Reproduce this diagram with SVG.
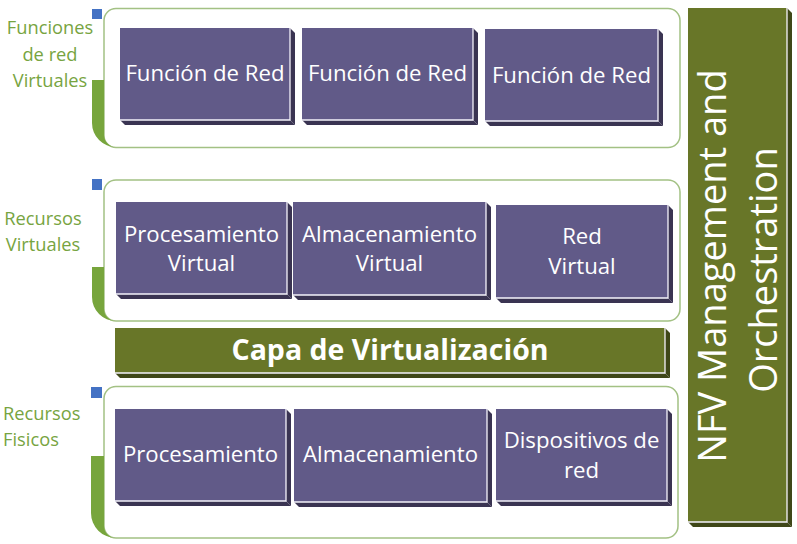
<svg xmlns="http://www.w3.org/2000/svg" width="797" height="544" viewBox="0 0 797 544">
<defs>
<style>
.panel{fill:#ffffff;stroke:#a3c184;stroke-width:1.5}
.brk{fill:#77a53c}
.sq{fill:#4472c4}
.lbl{font-family:"Open Sans","Noto Sans",sans-serif;font-size:18.3px;fill:#77a441}
.front{fill:#615a88}
.side{fill:#3a3452}
.hl{fill:none;stroke:#f4f2fa;stroke-width:1.3}
.btxt{font-family:"Open Sans","Noto Sans",sans-serif;font-size:22.2px;fill:#ffffff;text-anchor:middle}
.ofront{fill:#687628}
.oside{fill:#3f4718}
.ctxt{font-family:"Open Sans","Noto Sans",sans-serif;font-size:28.5px;font-weight:bold;fill:#ffffff;text-anchor:middle}
.ntxt{font-family:"Open Sans","Noto Sans",sans-serif;font-size:38px;fill:#ffffff;text-anchor:middle}
</style>
</defs>
<rect width="797" height="544" fill="#ffffff"/>

<!-- Panel 1 -->
<g id="panel-funciones">
<rect class="panel" x="104" y="8.5" width="576" height="139" rx="12"/>
<path class="brk" d="M92,80 H104 V135 A12,12 0 0 0 116,147 A24,24 0 0 1 92,123 Z"/>
<rect class="sq" x="92" y="9" width="10" height="10"/>
<text class="lbl" text-anchor="middle"><tspan x="50" y="34">Funciones</tspan><tspan x="50" y="61">de red</tspan><tspan x="50" y="87">Virtuales</tspan></text>
</g>
<g id="fn1">
<rect class="front" x="120" y="28" width="170" height="92"/>
<polygon class="side" points="290,28 295,33 295,125 290,120"/>
<polygon class="side" points="120,120 290,120 295,125 125,125"/>
<polyline class="hl" points="120,120 290,120 290,28"/>
<text class="btxt" x="205" y="81">Función de Red</text>
</g>
<g id="fn2">
<rect class="front" x="302" y="28" width="171" height="92"/>
<polygon class="side" points="473,28 478,33 478,125 473,120"/>
<polygon class="side" points="302,120 473,120 478,125 307,125"/>
<polyline class="hl" points="302,120 473,120 473,28"/>
<text class="btxt" x="387.5" y="81">Función de Red</text>
</g>
<g id="fn3">
<rect class="front" x="485" y="29" width="173" height="92"/>
<polygon class="side" points="658,29 663,34 663,126 658,121"/>
<polygon class="side" points="485,121 658,121 663,126 490,126"/>
<polyline class="hl" points="485,121 658,121 658,29"/>
<text class="btxt" x="571.5" y="83">Función de Red</text>
</g>

<!-- Panel 2 -->
<g id="panel-recursos-virtuales">
<rect class="panel" x="104" y="180" width="576" height="141" rx="12"/>
<path class="brk" d="M92,267 H104 V309 A12,12 0 0 0 116,321 A24,24 0 0 1 92,297 Z"/>
<rect class="sq" x="92" y="179" width="10" height="11"/>
<text class="lbl" text-anchor="middle"><tspan x="43" y="225">Recursos</tspan><tspan x="43" y="251">Virtuales</tspan></text>
</g>
<g id="rv1">
<rect class="front" x="116" y="202" width="171" height="92"/>
<polygon class="side" points="287,202 292,207 292,299 287,294"/>
<polygon class="side" points="116,294 287,294 292,299 121,299"/>
<polyline class="hl" points="116,294 287,294 287,202"/>
<text class="btxt"><tspan x="201.5" y="242">Procesamiento</tspan><tspan x="201.5" y="271">Virtual</tspan></text>
</g>
<g id="rv2">
<rect class="front" x="293" y="202" width="193" height="93"/>
<polygon class="side" points="486,202 491,207 491,300 486,295"/>
<polygon class="side" points="293,295 486,295 491,300 298,300"/>
<polyline class="hl" points="293,295 486,295 486,202"/>
<text class="btxt"><tspan x="389.5" y="242">Almacenamiento</tspan><tspan x="389.5" y="271">Virtual</tspan></text>
</g>
<g id="rv3">
<rect class="front" x="496" y="205" width="172" height="93"/>
<polygon class="side" points="668,205 673,210 673,303 668,298"/>
<polygon class="side" points="496,298 668,298 673,303 501,303"/>
<polyline class="hl" points="496,298 668,298 668,205"/>
<text class="btxt"><tspan x="582" y="244">Red</tspan><tspan x="582" y="274">Virtual</tspan></text>
</g>

<!-- Capa de Virtualizacion -->
<g id="capa-virtualizacion">
<rect class="ofront" x="115" y="328" width="550" height="45"/>
<polygon class="oside" points="665,328 670,333 670,378 665,373"/>
<polygon class="oside" points="115,373 665,373 670,378 120,378"/>
<polyline class="hl" points="115,373 665,373 665,328"/>
<text class="ctxt" x="390" y="360">Capa de Virtualización</text>
</g>

<!-- Panel 3 -->
<g id="panel-recursos-fisicos">
<rect class="panel" x="104" y="386.5" width="574" height="151.5" rx="12"/>
<path class="brk" d="M91,456 H104 V526 A12,12 0 0 0 116,538 A25,25 0 0 1 91,513 Z"/>
<rect class="sq" x="91" y="387" width="11" height="11"/>
<text class="lbl"><tspan x="3" y="420">Recursos</tspan><tspan x="3" y="446">Fisicos</tspan></text>
</g>
<g id="rf1">
<rect class="front" x="115" y="409" width="171" height="92"/>
<polygon class="side" points="286,409 291,414 291,506 286,501"/>
<polygon class="side" points="115,501 286,501 291,506 120,506"/>
<polyline class="hl" points="115,501 286,501 286,409"/>
<text class="btxt" x="200.5" y="462">Procesamiento</text>
</g>
<g id="rf2">
<rect class="front" x="294" y="409" width="193" height="93"/>
<polygon class="side" points="487,409 492,414 492,507 487,502"/>
<polygon class="side" points="294,502 487,502 492,507 299,507"/>
<polyline class="hl" points="294,502 487,502 487,409"/>
<text class="btxt" x="390.5" y="462">Almacenamiento</text>
</g>
<g id="rf3">
<rect class="front" x="496" y="409" width="171" height="92"/>
<polygon class="side" points="667,409 672,414 672,506 667,501"/>
<polygon class="side" points="496,501 667,501 672,506 501,506"/>
<polyline class="hl" points="496,501 667,501 667,409"/>
<text class="btxt"><tspan x="581.5" y="448">Dispositivos de</tspan><tspan x="581.5" y="478">red</tspan></text>
</g>

<!-- NFV MANO -->
<g id="nfv-mano">
<rect class="ofront" x="688" y="8" width="99" height="514"/>
<polygon class="oside" points="787,8 792,13 792,527 787,522"/>
<polygon class="oside" points="688,522 787,522 792,527 693,527"/>
<polyline class="hl" points="688,522 787,522 787,8"/>
<text class="ntxt" transform="rotate(-90)"><tspan x="-266" y="726">NFV Management and</tspan><tspan x="-270" y="777">Orchestration</tspan></text>
</g>

<g id="connectors"></g>
</svg>
